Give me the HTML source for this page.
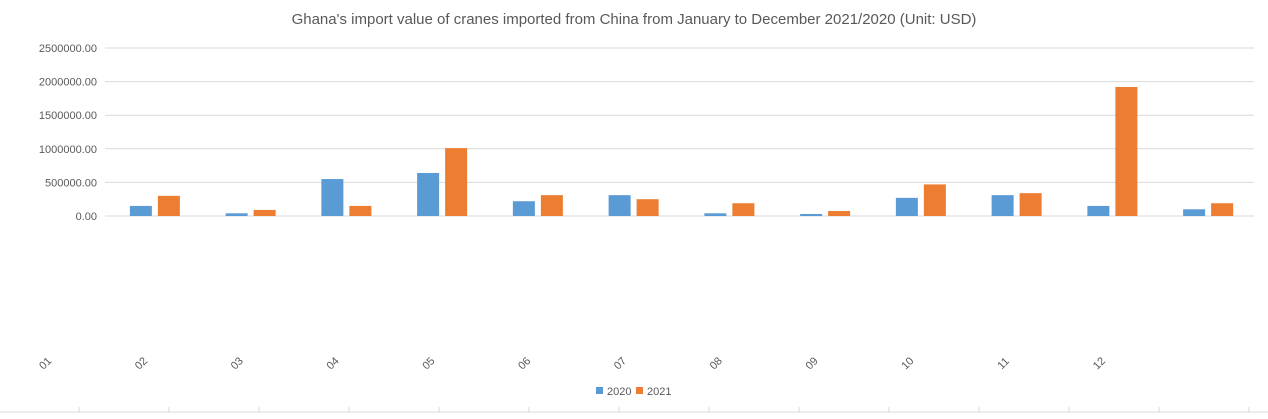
<!DOCTYPE html>
<html><head><meta charset="utf-8"><style>
body{margin:0;background:#fff;font-family:"Liberation Sans",sans-serif}
svg text{font-family:"Liberation Sans",sans-serif}
</style></head><body>
<svg width="1268" height="414" id="c">
<text x="634" y="24" text-anchor="middle" font-size="15" fill="#595959">Ghana's import value of cranes imported from China from January to December 2021/2020 (Unit: USD)</text>
<g id="grid"></g><g id="bars"></g><g id="xl"></g>
<line x1="0" y1="412" x2="1268" y2="412" stroke="#d9d9d9"/>
<g>
<rect x="596" y="387" width="7" height="7" fill="#5b9bd5"/>
<text x="607" y="395" font-size="11" fill="#595959">2020</text>
<rect x="636" y="387" width="7" height="7" fill="#ed7d31"/>
<text x="647" y="395" font-size="11" fill="#595959">2021</text>
</g>
</svg>
<script>
const categories=["01","02","03","04","05","06","07","08","09","10","11","12"];
const series2020=[150000,40000,550000,640000,220000,310000,40000,30000,270000,310000,150000,100000];
const series2021=[300000,90000,150000,1010000,310000,250000,190000,75000,470000,340000,1920000,190000];
const yTicks=[0,500000,1000000,1500000,2000000,2500000];
const NS="http://www.w3.org/2000/svg";
const y0=216,yTop=48,ymax=2500000,x0=105,x1=1254;
const y=v=>y0-(v/ymax)*(y0-yTop);
const gw=(x1-x0)/categories.length;
function mk(t,a,p){const e=document.createElementNS(NS,t);for(const k in a)e.setAttribute(k,a[k]);p.appendChild(e);return e;}
const grid=document.getElementById('grid');
yTicks.forEach(v=>{
 const l=mk('line',{x1:x0,x2:x1,y1:y(v),y2:y(v),stroke:'#d9d9d9'},grid);
 
 
 const t=mk('text',{x:97,y:y(v)+4,'text-anchor':'end','font-size':'11',fill:'#595959'},grid);
 t.textContent=v.toFixed(2);
 
 
});
const bars=document.getElementById('bars');
categories.forEach((c,i)=>{
 const cx=x0+gw*i+gw/2;
 const b1=mk('rect',{x:cx-25+2,y:y(series2020[i]),width:22,height:y0-y(series2020[i]),fill:'#5b9bd5'},bars);
 
 
 const b2=mk('rect',{x:cx+3+2,y:y(series2021[i]),width:22,height:y0-y(series2021[i]),fill:'#ed7d31'},bars);
 
 
});
const xl=document.getElementById('xl');
categories.forEach((c,i)=>{
 const lx=45+i*95.8, ly=363;
 const t=mk('text',{x:lx,y:ly+4,'text-anchor':'middle','font-size':'11',fill:'#595959',transform:`rotate(-45 ${lx} ${ly})`},xl);
 t.textContent=c;
 
 
});
for(let i=0;i<14;i++){
 const tx=79+i*90;
 const l=mk('line',{x1:tx,x2:tx,y1:407,y2:412,stroke:'#d9d9d9'},xl);
 
 
}
</script>
</body></html>
